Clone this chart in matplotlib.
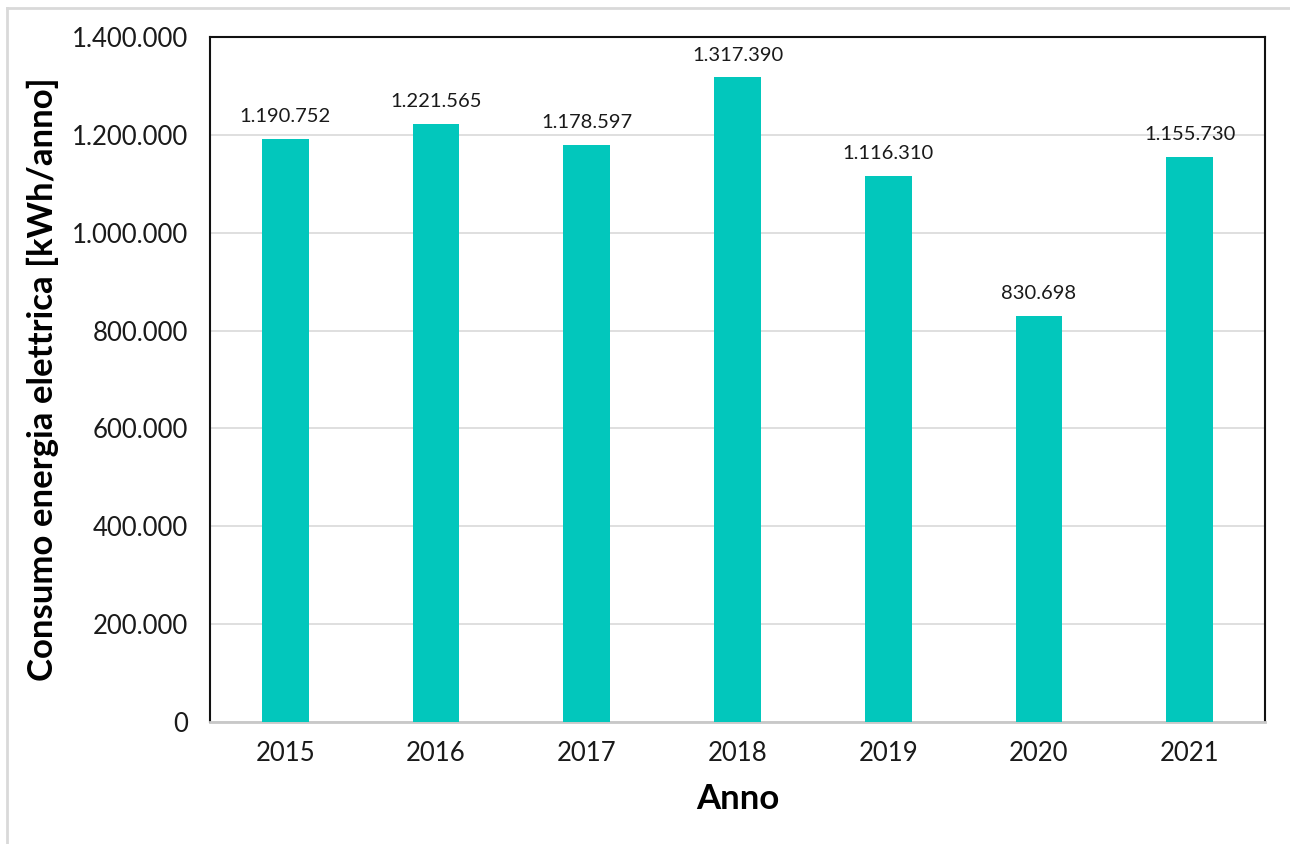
import matplotlib.pyplot as plt
from matplotlib.lines import Line2D
from matplotlib.ticker import FuncFormatter, MultipleLocator

years = ["2015", "2016", "2017", "2018", "2019", "2020", "2021"]
consumption = [1190752, 1221565, 1178597, 1317390, 1116310, 830698, 1155730]

BAR_COLOR = "#02C7BC"
FONT = ["Lato", "DejaVu Sans"]
plt.rcParams["font.family"] = FONT


def it_thousands(v, pos=None):
    return f"{int(round(v)):,}".replace(",", ".")


fig = plt.figure(figsize=(12.9, 8.44), dpi=100)
ax = fig.add_axes([210 / 1290, 1 - 722 / 844, (1265 - 210) / 1290, (722 - 37) / 844])

x = range(len(years))
bars = ax.bar(x, consumption, width=0.31, color=BAR_COLOR, zorder=3)

for xi, v in zip(x, consumption):
    ax.annotate(it_thousands(v), (xi, v), xytext=(0, 10), textcoords="offset points",
                ha="center", va="bottom", fontsize=14.5, color="#1a1a1a")

ax.set_xlim(-0.5, len(years) - 0.5)
ax.set_ylim(0, 1400000)
ax.yaxis.set_major_locator(MultipleLocator(200000))
ax.yaxis.set_major_formatter(FuncFormatter(it_thousands))
ax.set_xticks(list(x))
ax.set_xticklabels(years)

ax.grid(axis="y", color="#d9d9d9", linewidth=1.2, zorder=0)
ax.tick_params(axis="both", length=0, labelsize=18.5, colors="#1a1a1a")
ax.tick_params(axis="x", pad=14)
ax.tick_params(axis="y", pad=16)

for side in ("left", "top", "right"):
    ax.spines[side].set_color("#111111")
    ax.spines[side].set_linewidth(1.5)
ax.spines["bottom"].set_color("#c8c8c8")
ax.spines["bottom"].set_linewidth(2)

ax.set_ylabel("Consumo energia elettrica [kWh/anno]", fontsize=25, fontweight="bold", labelpad=9)
ax.set_xlabel("Anno", fontsize=25, fontweight="bold", labelpad=12)

# light outer border of the chart area
fig.add_artist(Line2D([7 / 1290, 1], [1 - 8 / 844, 1 - 8 / 844], transform=fig.transFigure,
                      color="#d9d9d9", linewidth=2))
fig.add_artist(Line2D([7 / 1290, 7 / 1290], [0, 1 - 8 / 844], transform=fig.transFigure,
                      color="#d9d9d9", linewidth=2))

fig.savefig("out.png", dpi=100)
